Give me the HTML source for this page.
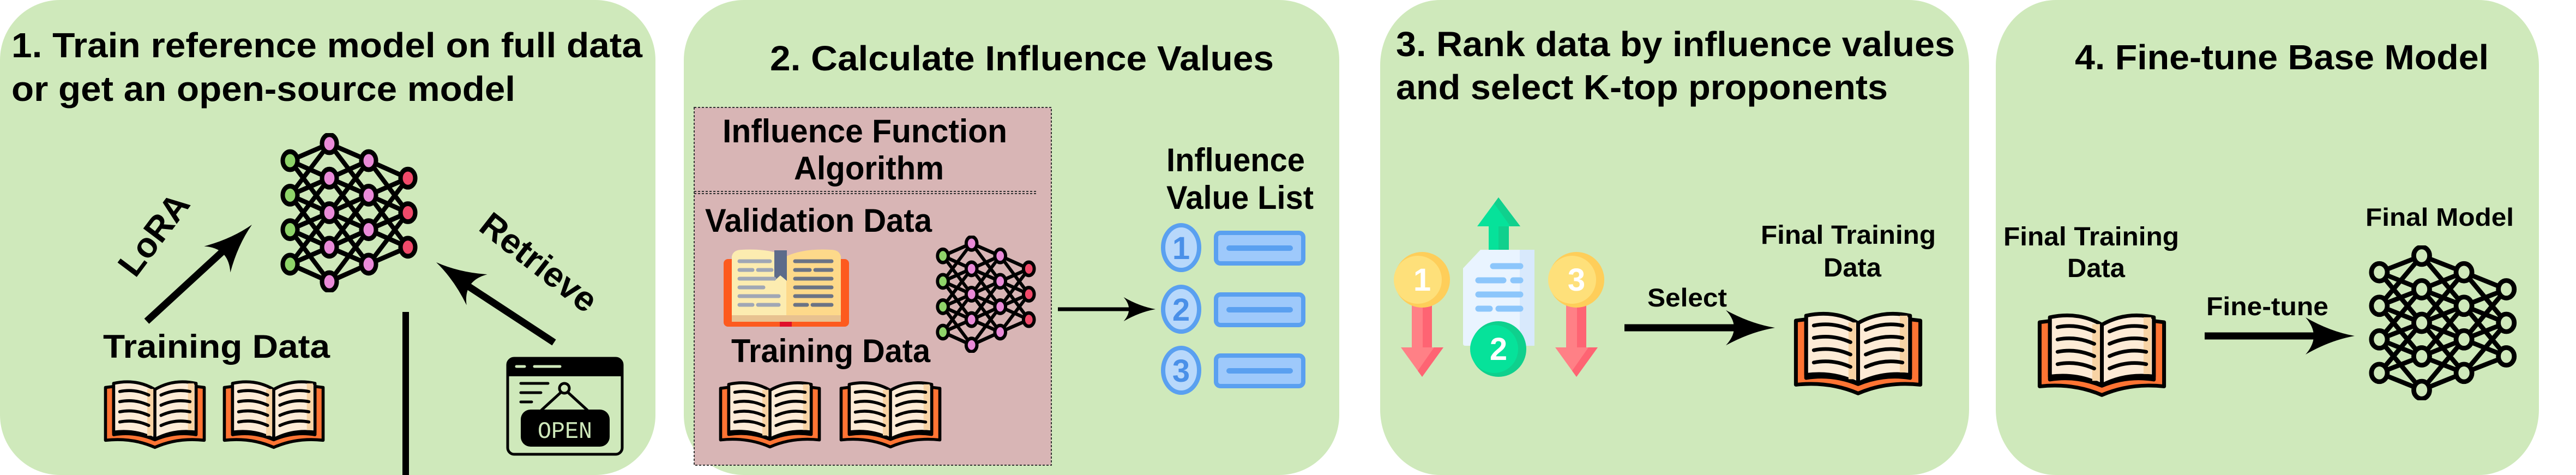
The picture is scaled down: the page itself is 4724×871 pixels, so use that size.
<!DOCTYPE html>
<html><head><meta charset="utf-8"><style>
html,body{margin:0;padding:0;background:#fff;}
svg{display:block;}
text{font-family:"Liberation Sans",Arial,sans-serif;font-weight:bold;fill:#000;}
</style></head><body>
<svg width="4724" height="871" viewBox="0 0 4724 871" xmlns="http://www.w3.org/2000/svg">
<defs>
<symbol id="nn" viewBox="0 0 300 300" preserveAspectRatio="none">
<g stroke="#000" stroke-width="9" fill="none">
<path d="M20,52 L100,20 M20,52 L100,85 M20,52 L100,150 M20,117 L100,20 M20,117 L100,85 M20,117 L100,150 M20,117 L100,215 M20,182 L100,85 M20,182 L100,150 M20,182 L100,215 M20,182 L100,280 M20,247 L100,150 M20,247 L100,215 M20,247 L100,280
M100,20 L180,52 M100,20 L180,117 M100,85 L180,52 M100,85 L180,117 M100,85 L180,182 M100,150 L180,52 M100,150 L180,117 M100,150 L180,182 M100,150 L180,247 M100,215 L180,117 M100,215 L180,182 M100,215 L180,247 M100,280 L180,182 M100,280 L180,247
M180,52 L260,85 M180,52 L260,150 M180,117 L260,85 M180,117 L260,150 M180,117 L260,215 M180,182 L260,85 M180,182 L260,150 M180,182 L260,215 M180,247 L260,150 M180,247 L260,215"/>
</g>
</symbol>
<symbol id="nodesC" viewBox="0 0 300 300" preserveAspectRatio="none">
<g stroke="#000" stroke-width="9">
<g fill="#8fd46a"><ellipse cx="20" cy="52" rx="15" ry="17"/><ellipse cx="20" cy="117" rx="15" ry="17"/><ellipse cx="20" cy="182" rx="15" ry="17"/><ellipse cx="20" cy="247" rx="15" ry="17"/></g>
<g fill="#e98ad8"><ellipse cx="100" cy="20" rx="15" ry="17"/><ellipse cx="100" cy="85" rx="15" ry="17"/><ellipse cx="100" cy="150" rx="15" ry="17"/><ellipse cx="100" cy="215" rx="15" ry="17"/><ellipse cx="100" cy="280" rx="15" ry="17"/>
<ellipse cx="180" cy="52" rx="15" ry="17"/><ellipse cx="180" cy="117" rx="15" ry="17"/><ellipse cx="180" cy="182" rx="15" ry="17"/><ellipse cx="180" cy="247" rx="15" ry="17"/></g>
<g fill="#f04a6a"><ellipse cx="260" cy="85" rx="15" ry="17"/><ellipse cx="260" cy="150" rx="15" ry="17"/><ellipse cx="260" cy="215" rx="15" ry="17"/></g>
</g>
</symbol>
<symbol id="nodesO" viewBox="0 0 300 300" preserveAspectRatio="none">
<g stroke="#000" stroke-width="9" fill="#cfe9bb">
<ellipse cx="20" cy="52" rx="15" ry="17"/><ellipse cx="20" cy="117" rx="15" ry="17"/><ellipse cx="20" cy="182" rx="15" ry="17"/><ellipse cx="20" cy="247" rx="15" ry="17"/>
<ellipse cx="100" cy="20" rx="15" ry="17"/><ellipse cx="100" cy="85" rx="15" ry="17"/><ellipse cx="100" cy="150" rx="15" ry="17"/><ellipse cx="100" cy="215" rx="15" ry="17"/><ellipse cx="100" cy="280" rx="15" ry="17"/>
<ellipse cx="180" cy="52" rx="15" ry="17"/><ellipse cx="180" cy="117" rx="15" ry="17"/><ellipse cx="180" cy="182" rx="15" ry="17"/><ellipse cx="180" cy="247" rx="15" ry="17"/>
<ellipse cx="260" cy="85" rx="15" ry="17"/><ellipse cx="260" cy="150" rx="15" ry="17"/><ellipse cx="260" cy="215" rx="15" ry="17"/>
</g>
</symbol>
<symbol id="book" viewBox="0 0 210 145" preserveAspectRatio="none">
<path d="M8,22 L24,20 L24,115 Q65,108 105,125 Q145,108 186,115 L186,20 L202,22 L202,126 Q150,120 105,140 Q60,120 8,126 Z" fill="#ff7433" stroke="#000" stroke-width="6" stroke-linejoin="round"/>
<path d="M24,14 Q68,4 105,26 L105,124 Q68,104 24,110 Z" fill="#fdebd6" stroke="#000" stroke-width="6" stroke-linejoin="round"/>
<path d="M186,14 Q142,4 105,26 L105,124 Q142,104 186,110 Z" fill="#fdebd6" stroke="#000" stroke-width="6" stroke-linejoin="round"/>
<rect x="90" y="25" width="12" height="92" fill="#f8d3a4"/>
<rect x="170" y="14" width="12" height="92" fill="#f8d3a4"/>
<g stroke="#000" stroke-width="6" fill="none" stroke-linecap="round">
<path d="M36,30 Q65,24 93,37 M36,50 Q65,44 93,57 M36,70 Q65,64 93,77 M36,90 Q65,84 93,97"/>
<path d="M174,30 Q145,24 117,37 M174,50 Q145,44 117,57 M174,70 Q145,64 117,77 M174,90 Q145,84 117,97"/>
</g>
</symbol>
<path id="ah" d="M0,0 Q-45,-8 -90,-34 Q-60,0 -90,34 Q-45,8 0,0 Z"/>
</defs>

<rect x="0" y="0" width="1202" height="871" rx="110" ry="110" fill="#cfe9bb"/>
<rect x="1254" y="0" width="1202" height="871" rx="110" ry="110" fill="#cfe9bb"/>
<rect x="2531" y="0" width="1080" height="871" rx="110" ry="120" fill="#cfe9bb"/>
<rect x="3660" y="0" width="996" height="871" rx="110" ry="120" fill="#cfe9bb"/>

<!-- Panel 1 -->
<text x="21" y="105" font-size="64" textLength="1157" lengthAdjust="spacingAndGlyphs">1. Train reference model on full data</text>
<text x="21" y="185" font-size="64" textLength="924" lengthAdjust="spacingAndGlyphs">or get an open-source model</text>
<use href="#nn" x="514" y="244" width="270" height="292"/>
<use href="#nodesC" x="514" y="244" width="270" height="292"/>
<text font-size="64" transform="translate(286,433) rotate(-53)" text-anchor="middle" dominant-baseline="middle">LoRA</text>
<text font-size="64" transform="translate(985,485) rotate(38)" text-anchor="middle" dominant-baseline="middle">Retrieve</text>
<line x1="269" y1="589" x2="430" y2="441" stroke="#000" stroke-width="13"/>
<use href="#ah" transform="translate(462,412) rotate(-45)"/>
<line x1="1016" y1="628" x2="830" y2="506" stroke="#000" stroke-width="13"/>
<use href="#ah" transform="translate(800,481) rotate(214)"/>
<line x1="744" y1="572" x2="744" y2="871" stroke="#000" stroke-width="12"/>
<text x="189" y="656" font-size="60" textLength="416" lengthAdjust="spacingAndGlyphs">Training Data</text>
<use href="#book" x="186" y="690" width="196" height="135"/>
<use href="#book" x="404" y="690" width="196" height="135"/>
<rect x="931" y="657" width="210" height="176" rx="12" fill="none" stroke="#000" stroke-width="5"/>
<path d="M931,690 L931,669 Q931,657 943,657 L1129,657 Q1141,657 1141,669 L1141,690 Z" fill="#000"/>
<g stroke="#cfe9bb" stroke-width="5" stroke-linecap="round"><line x1="947" y1="672" x2="962" y2="672"/><line x1="980" y1="672" x2="1027" y2="672"/></g>
<g stroke="#000" stroke-width="5" stroke-linecap="round"><line x1="955" y1="703" x2="1005" y2="703"/><line x1="955" y1="720" x2="992" y2="720"/><line x1="955" y1="737" x2="975" y2="737"/>
<line x1="1028" y1="720" x2="993" y2="752"/><line x1="1042" y1="720" x2="1077" y2="752"/></g>
<circle cx="1035" cy="712" r="9" fill="none" stroke="#000" stroke-width="5"/>
<rect x="955" y="751" width="163" height="68" rx="18" fill="#000"/>
<text x="1036" y="803" font-size="44" text-anchor="middle" style="fill:#cfe9bb;font-family:'Liberation Mono',monospace;font-weight:normal" textLength="100" lengthAdjust="spacingAndGlyphs">OPEN</text>

<!-- Panel 2 -->
<text x="1412" y="129" font-size="64" textLength="924" lengthAdjust="spacingAndGlyphs">2. Calculate Influence Values</text>
<rect x="1273" y="197" width="655" height="656" fill="#d8b5b5" stroke="#333" stroke-width="2" stroke-dasharray="4,3"/>
<line x1="1273" y1="351" x2="1903" y2="351" stroke="#333" stroke-width="2" stroke-dasharray="4,3"/>
<line x1="1273" y1="355" x2="1903" y2="355" stroke="#333" stroke-width="2" stroke-dasharray="4,3"/>
<text x="1325" y="261" font-size="60" textLength="522" lengthAdjust="spacingAndGlyphs">Influence Function</text>
<text x="1456" y="329" font-size="60" textLength="275" lengthAdjust="spacingAndGlyphs">Algorithm</text>
<text x="1293" y="425" font-size="60" textLength="416" lengthAdjust="spacingAndGlyphs">Validation Data</text>
<rect x="1327" y="475" width="230" height="124" rx="8" fill="#fd5a1e"/>
<rect x="1430" y="585" width="22" height="14" fill="#e0102a"/>
<path d="M1342,470 Q1345,458 1360,458 Q1410,455 1442,470 L1442,590 L1342,590 Z" fill="#fcecb0"/>
<path d="M1542,470 Q1539,458 1524,458 Q1474,455 1442,470 L1442,590 L1542,590 Z" fill="#fdd98a"/>
<path d="M1342,578 L1542,578 L1542,590 L1342,590 Z" fill="#e8c290"/>
<path d="M1420,459 L1443,459 L1443,515 L1431,505 L1420,515 Z" fill="#5d6b8a"/>
<g stroke="#a0a7b5" stroke-width="7" stroke-linecap="round">
<line x1="1356" y1="479" x2="1412" y2="479"/><line x1="1356" y1="495" x2="1380" y2="495"/><line x1="1390" y1="495" x2="1415" y2="495"/><line x1="1356" y1="511" x2="1420" y2="511"/><line x1="1356" y1="527" x2="1400" y2="527"/><line x1="1356" y1="543" x2="1428" y2="543"/><line x1="1356" y1="559" x2="1380" y2="559"/><line x1="1390" y1="559" x2="1428" y2="559"/>
</g>
<g stroke="#6b7384" stroke-width="7" stroke-linecap="round">
<line x1="1458" y1="479" x2="1525" y2="479"/><line x1="1458" y1="495" x2="1485" y2="495"/><line x1="1495" y1="495" x2="1525" y2="495"/><line x1="1458" y1="511" x2="1525" y2="511"/><line x1="1458" y1="527" x2="1525" y2="527"/><line x1="1458" y1="543" x2="1525" y2="543"/><line x1="1458" y1="559" x2="1480" y2="559"/><line x1="1490" y1="559" x2="1525" y2="559"/>
</g>
<use href="#nn" x="1716" y="432" width="197" height="215"/>
<use href="#nodesC" x="1716" y="432" width="197" height="215"/>
<text x="1341" y="664" font-size="60" textLength="365" lengthAdjust="spacingAndGlyphs">Training Data</text>
<use href="#book" x="1314" y="692" width="196" height="132"/>
<use href="#book" x="1535" y="692" width="196" height="132"/>
<line x1="1940" y1="567" x2="2095" y2="567" stroke="#000" stroke-width="7"/>
<use href="#ah" transform="translate(2119,567) scale(0.65)"/>
<text x="2139" y="314" font-size="60" textLength="254" lengthAdjust="spacingAndGlyphs">Influence</text>
<text x="2139" y="383" font-size="60" textLength="270" lengthAdjust="spacingAndGlyphs">Value List</text>
<g stroke="#5aa0f0" stroke-width="8">
<ellipse cx="2166" cy="454" rx="33" ry="41" fill="#b8d8fb"/>
<ellipse cx="2166" cy="567" rx="33" ry="41" fill="#b8d8fb"/>
<ellipse cx="2166" cy="679" rx="33" ry="41" fill="#b8d8fb"/>
<rect x="2230" y="427" width="160" height="56" rx="8" fill="#9ec9fb"/>
<rect x="2230" y="540" width="160" height="56" rx="8" fill="#9ec9fb"/>
<rect x="2230" y="652" width="160" height="56" rx="8" fill="#9ec9fb"/>
<g stroke-width="10" stroke-linecap="round"><line x1="2254" y1="455" x2="2366" y2="455"/><line x1="2254" y1="568" x2="2366" y2="568"/><line x1="2254" y1="680" x2="2366" y2="680"/></g>
</g>
<g font-size="58" text-anchor="middle">
<text x="2166" y="475" style="fill:#4a90e8">1</text><text x="2166" y="588" style="fill:#4a90e8">2</text><text x="2166" y="700" style="fill:#4a90e8">3</text>
</g>

<!-- Panel 3 -->
<text x="2560" y="103" font-size="64" textLength="1025" lengthAdjust="spacingAndGlyphs">3. Rank data by influence values</text>
<text x="2560" y="182" font-size="64" textLength="902" lengthAdjust="spacingAndGlyphs">and select K-top proponents</text>
<path d="M2748,362 L2788,415 L2767,415 L2767,460 L2730,460 L2730,415 L2709,415 Z" fill="#06e29a"/>
<path d="M2748,362 L2788,415 L2767,415 L2767,460 L2748,460 L2748,415 L2770,415 L2740,373 Z" fill="#10d08d"/>
<path d="M2715,458 L2810,458 Q2814,458 2814,462 L2814,630 Q2814,634 2810,634 L2687,634 Q2683,634 2683,630 L2683,492 Z" fill="#e9f4ff"/>
<rect x="2787" y="458" width="27" height="176" fill="#d8e9fc"/>
<g stroke="#8cc6fb" stroke-width="11" stroke-linecap="round">
<line x1="2738" y1="488" x2="2788" y2="488"/><line x1="2711" y1="514" x2="2757" y2="514"/><line x1="2775" y1="514" x2="2788" y2="514"/><line x1="2711" y1="540" x2="2788" y2="540"/><line x1="2711" y1="566" x2="2732" y2="566"/><line x1="2748" y1="566" x2="2788" y2="566"/>
</g>
<path d="M2589,555 L2626,555 L2626,637 L2647,637 L2608,691 L2569,637 L2589,637 Z" fill="#ff8086"/>
<path d="M2609,555 L2626,555 L2626,637 L2647,637 L2608,691 L2600,680 L2630,637 L2609,637 Z" fill="#fe6473"/>
<path d="M2872,555 L2909,555 L2909,637 L2930,637 L2891,691 L2852,637 L2872,637 Z" fill="#ff8086"/>
<path d="M2892,555 L2909,555 L2909,637 L2930,637 L2891,691 L2883,680 L2913,637 L2892,637 Z" fill="#fe6473"/>
<circle cx="2608" cy="513" r="51" fill="#fece5a"/><circle cx="2600" cy="513" r="44" fill="#fee07a"/>
<circle cx="2891" cy="513" r="51" fill="#fece5a"/><circle cx="2883" cy="513" r="44" fill="#fee07a"/>
<circle cx="2748" cy="640" r="51" fill="#0fd08d"/><circle cx="2740" cy="640" r="44" fill="#06e29a"/>
<g font-size="58" text-anchor="middle">
<text x="2608" y="533" style="fill:#fff">1</text><text x="2891" y="533" style="fill:#fff">3</text><text x="2748" y="660" style="fill:#fff">2</text>
</g>
<text x="3021" y="562" font-size="47" textLength="146" lengthAdjust="spacingAndGlyphs">Select</text>
<line x1="2979" y1="601" x2="3225" y2="601" stroke="#000" stroke-width="13"/>
<use href="#ah" transform="translate(3255,601) scale(1,0.95)"/>
<text x="3229" y="447" font-size="48" textLength="321" lengthAdjust="spacingAndGlyphs">Final Training</text>
<text x="3344" y="507" font-size="48" textLength="106" lengthAdjust="spacingAndGlyphs">Data</text>
<use href="#book" x="3284" y="563" width="247" height="164"/>

<!-- Panel 4 -->
<text x="3805" y="127" font-size="64" textLength="759" lengthAdjust="spacingAndGlyphs">4. Fine-tune Base Model</text>
<text x="4338" y="414" font-size="46" textLength="272" lengthAdjust="spacingAndGlyphs">Final Model</text>
<text x="3674" y="450" font-size="48" textLength="322" lengthAdjust="spacingAndGlyphs">Final Training</text>
<text x="3791" y="508" font-size="48" textLength="106" lengthAdjust="spacingAndGlyphs">Data</text>
<use href="#book" x="3731" y="566" width="247" height="164"/>
<text x="4046" y="578" font-size="47" textLength="224" lengthAdjust="spacingAndGlyphs">Fine-tune</text>
<line x1="4043" y1="616" x2="4290" y2="616" stroke="#000" stroke-width="13"/>
<use href="#ah" transform="translate(4318,616)"/>
<use href="#nn" x="4344" y="450" width="291" height="284"/>
<use href="#nodesO" x="4344" y="450" width="291" height="284"/>
</svg>
</body></html>
